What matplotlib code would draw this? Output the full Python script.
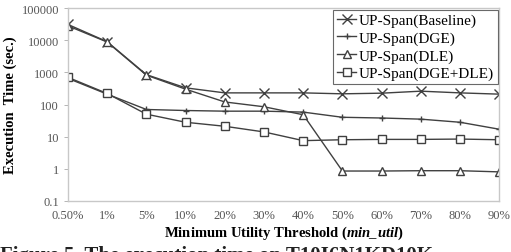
import numpy as np
import matplotlib
matplotlib.use("Agg")
import matplotlib.pyplot as plt

thresholds = ["0.50%", "1%", "5%", "10%", "20%", "30%", "40%", "50%", "60%", "70%", "80%", "90%"]
baseline = [31000, 9000, 850, 330, 230, 230, 230, 215, 225, 260, 230, 210]
dge = [650, 210, 70, 65, 62, 62, 58, 40, 38, 35, 28, 17]
dle = [28000, 8800, 820, 300, 120, 85, 48, 0.85, 0.85, 0.87, 0.87, 0.8]
dge_dle = [700, 220, 50, 28, 21, 14, 7.5, 8.0, 8.2, 8.2, 8.4, 8.0]
yticks = [0.1, 1, 10, 100, 1000, 10000, 100000]
ytick_labels = ["0.1", "1", "10", "100", "1000", "10000", "100000"]

plt.rcParams["font.family"] = ["Liberation Serif", "DejaVu Serif"]
plt.rcParams["mathtext.fontset"] = "custom"
plt.rcParams["mathtext.rm"] = "Liberation Serif"
plt.rcParams["mathtext.bfit"] = "Liberation Serif:italic:bold"

fig = plt.figure(figsize=(5.11, 2.53), dpi=100)
ax = fig.add_axes([0.133, 0.202, 0.844, 0.762])

x = np.arange(len(thresholds))
line_color = "#404040"
series = [
    (baseline, "x", 7, "UP-Span(Baseline)"),
    (dge, "+", 4, "UP-Span(DGE)"),
    (dle, "^", 6, "UP-Span(DLE)"),
    (dge_dle, "s", 6, "UP-Span(DGE+DLE)"),
]
for vals, marker, ms, label in series:
    ax.plot(x, vals, color=line_color, lw=1.0, marker=marker, ms=ms,
            mfc="white", mec=line_color, mew=1.0, label=label)

ax.set_yscale("log")
ax.set_ylim(0.1, 100000)
ax.set_xlim(0, len(thresholds) - 1)
ax.set_yticks(yticks)
ax.set_yticklabels(ytick_labels)
ax.yaxis.set_minor_locator(matplotlib.ticker.NullLocator())
ax.set_xticks(x)
ax.set_xticklabels(thresholds)
ax.tick_params(axis="x", length=0, pad=6, labelsize=9, labelcolor="#555555")
ax.tick_params(axis="y", length=3, width=0.6, color="#aaaaaa", labelsize=9, labelcolor="#555555")

for side in ["top", "left", "right", "bottom"]:
    ax.spines[side].set_color("#c8c8c8")
    ax.spines[side].set_linewidth(1.0)

ax.set_xlabel("Minimum Utility Threshold ($\\mathbfit{min\\_util}$)", fontsize=10.5,
              fontweight="bold", labelpad=2)
ax.set_ylabel("Execution  Time (sec.)", fontsize=10.5, fontweight="bold", labelpad=3)

leg = ax.legend(loc="upper right", fontsize=11, frameon=True, fancybox=False,
                borderpad=0.25, labelspacing=0.25, handlelength=1.3, handletextpad=0.15,
                borderaxespad=0.1)
leg.get_frame().set_edgecolor("#444444")
leg.get_frame().set_linewidth(0.8)

fig.text(0.0, 0.028, "Figure 5. The execution time on T10I6N1KD10K", fontsize=15,
         fontweight="bold", va="top", ha="left", color="#222222")

fig.savefig("out.png", dpi=100)
